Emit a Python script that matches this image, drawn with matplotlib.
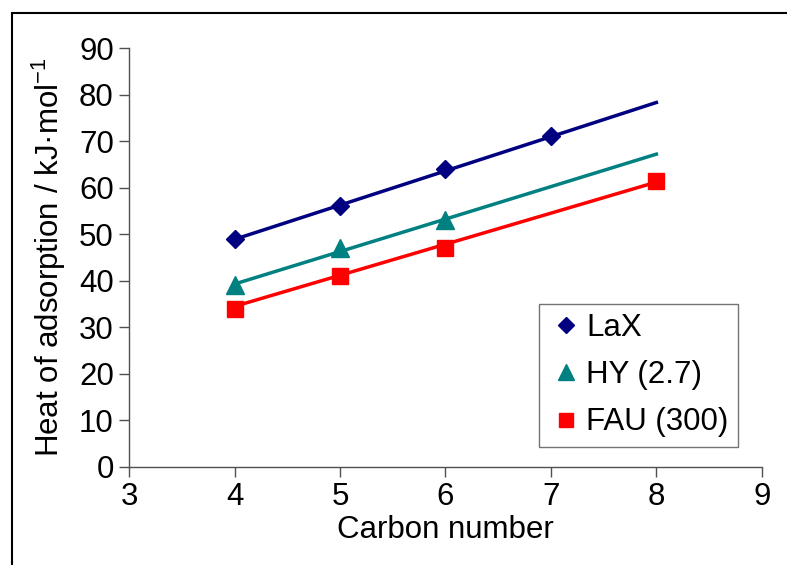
import matplotlib
matplotlib.use("Agg")
from matplotlib import pyplot as plt
from matplotlib.patches import Rectangle

plt.rcParams['font.family'] = ['Liberation Sans', 'DejaVu Sans']

# measured points
lax_x = [4, 5, 6, 7]
lax_y = [49, 56, 64, 71]
hy_x = [4, 5, 6]
hy_y = [39, 47, 53]
fau_x = [4, 5, 6, 8]
fau_y = [34, 41, 47, 61.4]

# trend lines (ends)
trend_x = [4, 8]
lax_trend = [48.9, 78.3]
hy_trend = [39.3, 67.2]
fau_trend = [34.5, 61.2]

x_ticks = [3, 4, 5, 6, 7, 8, 9]
y_ticks = [0, 10, 20, 30, 40, 50, 60, 70, 80, 90]

navy = '#000080'
teal = '#008080'
red = '#ff0000'
fs = 22.5

fig = plt.figure(figsize=(7.87, 5.65), dpi=100)
ax = fig.add_axes([0.164, 0.1735, 0.804, 0.7415])

# trend lines
ax.plot(trend_x, lax_trend, color=navy, lw=2.5, zorder=2)
ax.plot(trend_x, hy_trend, color=teal, lw=2.5, zorder=2)
ax.plot(trend_x, fau_trend, color=red, lw=2.5, zorder=2)

# markers
ax.plot(lax_x, lax_y, 'D', color=navy, ms=9.5, ls='none', label='LaX', zorder=3)
ax.plot(hy_x, hy_y, '^', color=teal, ms=12.5, ls='none', label='HY (2.7)', zorder=3)
ax.plot(fau_x, fau_y, 's', color=red, ms=11, ls='none', label='FAU (300)', zorder=3)

ax.set_xlim(3, 9)
ax.set_ylim(0, 90)
ax.set_xticks(x_ticks)
ax.set_yticks(y_ticks)
for s in ['top', 'right']:
    ax.spines[s].set_visible(False)
for s in ['left', 'bottom']:
    ax.spines[s].set_color('#505050')
    ax.spines[s].set_linewidth(1.0)
ax.tick_params(direction='out', length=7, width=1.0, color='#505050', labelsize=fs, pad=4)

ax.set_xlabel('Carbon number', fontsize=fs, labelpad=2)
ax.set_ylabel(r'Heat of adsorption / kJ·mol$^{\mathregular{-1}}$', fontsize=fs, labelpad=8)

leg = ax.legend(loc='lower right', bbox_to_anchor=(0.962, 0.048), borderaxespad=0,
                fontsize=fs, frameon=True, fancybox=False, handletextpad=0.1,
                labelspacing=0.55, borderpad=0.3, handlelength=1.1, markerscale=0.9)
leg.get_frame().set_edgecolor('#505050')
leg.get_frame().set_linewidth(1.0)

# outer frame, cut at right and bottom like the original
fig.patches.append(Rectangle((11.5 / 787, -0.2), 1.2, (565 - 12.5) / 565 + 0.2,
                             transform=fig.transFigure, fill=False,
                             edgecolor='black', lw=1.5))

fig.savefig('out.png', dpi=100)
